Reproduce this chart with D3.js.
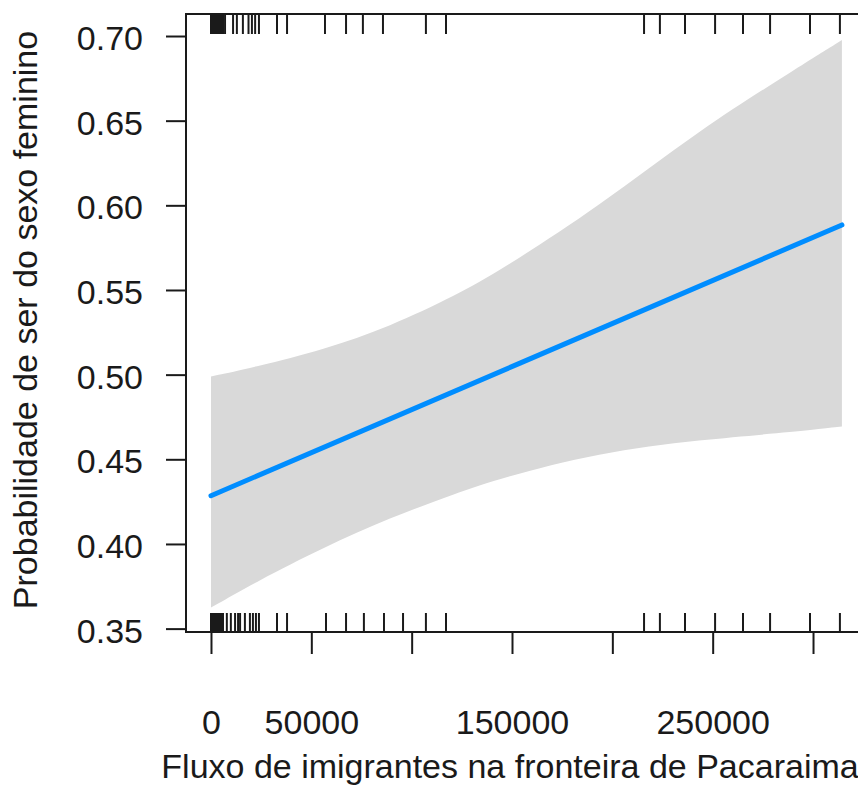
<!DOCTYPE html>
<html>
<head>
<meta charset="utf-8">
<script src="https://cdn.jsdelivr.net/npm/d3@7"></script>
<style>
  body { margin: 0; background: #fff; }
  svg { display: block; font-family: "Liberation Sans", Arial, sans-serif; }
</style>
</head>
<body>
<div id="vis-holder"></div>
<script>
// Chart data
const fitX = [0, 154000, 314400];
const fitY = [0.4285, 0.5068, 0.5884];

const bandX     = [0, 22800, 56000, 89200, 122400, 144600, 193300, 243200, 293000, 314400];
const bandUpper = [0.4989, 0.5048, 0.5147, 0.5284, 0.5470, 0.5619, 0.5993, 0.6445, 0.6817, 0.6976];
const bandLower = [0.3624, 0.3779, 0.3978, 0.4155, 0.4300, 0.4390, 0.4539, 0.4615, 0.4664, 0.4694];

// observations with outcome 1 (top rug) and 0 (bottom rug)
const rugTop = [0, 1000, 2000, 3000, 4000, 5000, 6000, 7000, 11000, 12900, 15900, 18700, 20400,
  22000, 23900, 32900, 37900, 56800, 67300, 75700, 85700, 107100, 117100,
  215800, 223700, 236200, 251200, 265100, 278600, 298500, 313400];
const rugBottom = [0, 1000, 2000, 3000, 4000, 5000, 6000, 7900, 9900, 12000, 13500, 14500, 16900,
  19400, 20900, 22400, 23900, 32900, 37900, 57300, 67300, 76200, 86200, 95700, 107100, 117100,
  215800, 223700, 236200, 251200, 265100, 278600, 298500, 313400];

const xTicks = [0, 50000, 100000, 150000, 200000, 250000, 300000];
const xTickLabels = [0, 50000, 150000, 250000];
const yTicks = [0.35, 0.40, 0.45, 0.50, 0.55, 0.60, 0.65, 0.70];

const xTitle = "Fluxo de imigrantes na fronteira de Pacaraima";
const yTitle = "Probabilidade de ser do sexo feminino";

// Dimensions
const width = 858;
const height = 787;
const box = { left: 186, top: 14, right: 867, bottom: 632 };
const fontSize = 34;
const ink = "#1a1a1a";

const svg = d3.select("#vis-holder")
  .append("svg")
  .attr("width", width)
  .attr("height", height);

// Scales
const x = d3.scaleLinear()
  .domain([-12450, 326900])
  .range([box.left, box.right]);

const y = d3.scaleLinear()
  .domain([0.348, 0.713])
  .range([box.bottom, box.top]);

// Confidence band
const bandData = bandX.map((d, i) => ({ x: d, lo: bandLower[i], hi: bandUpper[i] }));
svg.append("path")
  .datum(bandData)
  .attr("fill", "#d9d9d9")
  .attr("d", d3.area()
    .curve(d3.curveBasis)
    .x(d => x(d.x))
    .y0(d => y(d.lo))
    .y1(d => y(d.hi)));

// Rugs
svg.append("g")
  .selectAll("line")
  .data(rugTop)
  .enter()
  .append("line")
    .attr("x1", d => x(d))
    .attr("x2", d => x(d))
    .attr("y1", box.top)
    .attr("y2", box.top + 20)
    .attr("stroke", ink)
    .attr("stroke-width", 2);

svg.append("g")
  .selectAll("line")
  .data(rugBottom)
  .enter()
  .append("line")
    .attr("x1", d => x(d))
    .attr("x2", d => x(d))
    .attr("y1", box.bottom - 19)
    .attr("y2", box.bottom)
    .attr("stroke", ink)
    .attr("stroke-width", 2);

// Fitted line
const fitData = fitX.map((d, i) => ({ x: d, y: fitY[i] }));
svg.append("path")
  .datum(fitData)
  .attr("fill", "none")
  .attr("stroke", "#008dff")
  .attr("stroke-width", 5)
  .attr("stroke-linecap", "round")
  .attr("d", d3.line().x(d => x(d.x)).y(d => y(d.y)));

// Box
svg.append("rect")
  .attr("x", box.left)
  .attr("y", box.top)
  .attr("width", box.right - box.left)
  .attr("height", box.bottom - box.top)
  .attr("fill", "none")
  .attr("stroke", ink)
  .attr("stroke-width", 2);

// Y axis
svg.append("g")
  .attr("transform", `translate(${box.left},0)`)
  .call(d3.axisLeft(y)
    .tickValues(yTicks)
    .tickSize(20)
    .tickPadding(23)
    .tickFormat(d3.format(".2f")))
  .call(g => g.select(".domain").remove())
  .call(g => g.selectAll("line").attr("stroke", ink).attr("stroke-width", 2))
  .call(g => g.selectAll("text")
    .attr("fill", ink)
    .attr("font-size", fontSize)
    .attr("font-family", "Liberation Sans, Arial, sans-serif")
    .attr("dy", "0.4em"));

// X axis
svg.append("g")
  .attr("transform", `translate(0,${box.bottom})`)
  .call(d3.axisBottom(x)
    .tickValues(xTicks)
    .tickSize(22)
    .tickPadding(56)
    .tickFormat(d => xTickLabels.includes(d) ? d : ""))
  .call(g => g.select(".domain").remove())
  .call(g => g.selectAll("line").attr("stroke", ink).attr("stroke-width", 2))
  .call(g => g.selectAll("text")
    .attr("fill", ink)
    .attr("font-size", fontSize)
    .attr("font-family", "Liberation Sans, Arial, sans-serif"));

// Axis titles
svg.append("text")
  .attr("x", 510)
  .attr("y", 778)
  .attr("text-anchor", "middle")
  .attr("font-size", fontSize)
  .attr("fill", ink)
  .text(xTitle);

svg.append("text")
  .attr("transform", "translate(37,320) rotate(-90)")
  .attr("text-anchor", "middle")
  .attr("font-size", fontSize)
  .attr("fill", ink)
  .text(yTitle);
</script>
</body>
</html>
